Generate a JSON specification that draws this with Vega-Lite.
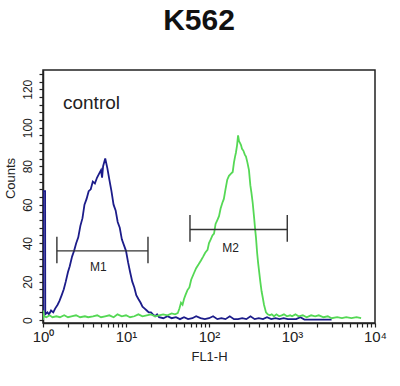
{
  "$schema": "https://vega.github.io/schema/vega-lite/v6.json",
  "width": 332,
  "height": 253,
  "autosize": {"type": "none"},
  "padding": {"left": 43, "top": 70, "right": 25, "bottom": 63},
  "background": "white",
  "config": {
    "view": {"stroke": "#222222", "strokeWidth": 1.5},
    "font": "Liberation Sans"
  },
  "datasets": {
    "hist": [
      {"s": "control", "v": 1, "n": 0}, {"s": "control", "v": 1.001, "n": 67}, {"s": "control", "v": 1.06, "n": 67}, {"s": "control", "v": 1.065, "n": 3},
      {"s": "control", "v": 1.13, "n": 4}, {"s": "control", "v": 1.18, "n": 3}, {"s": "control", "v": 1.25, "n": 5}, {"s": "control", "v": 1.33, "n": 4},
      {"s": "control", "v": 1.4, "n": 6}, {"s": "control", "v": 1.5, "n": 8}, {"s": "control", "v": 1.58, "n": 10}, {"s": "control", "v": 1.68, "n": 13},
      {"s": "control", "v": 1.78, "n": 16}, {"s": "control", "v": 1.88, "n": 20}, {"s": "control", "v": 2.0, "n": 25}, {"s": "control", "v": 2.1, "n": 28},
      {"s": "control", "v": 2.24, "n": 33}, {"s": "control", "v": 2.37, "n": 36}, {"s": "control", "v": 2.51, "n": 40}, {"s": "control", "v": 2.66, "n": 43},
      {"s": "control", "v": 2.82, "n": 49}, {"s": "control", "v": 2.99, "n": 53}, {"s": "control", "v": 3.16, "n": 60}, {"s": "control", "v": 3.35, "n": 63},
      {"s": "control", "v": 3.55, "n": 67}, {"s": "control", "v": 3.76, "n": 68}, {"s": "control", "v": 3.98, "n": 72}, {"s": "control", "v": 4.22, "n": 71},
      {"s": "control", "v": 4.47, "n": 74}, {"s": "control", "v": 4.73, "n": 76}, {"s": "control", "v": 5.0, "n": 78}, {"s": "control", "v": 5.15, "n": 74},
      {"s": "control", "v": 5.3, "n": 80}, {"s": "control", "v": 5.62, "n": 84}, {"s": "control", "v": 5.96, "n": 79}, {"s": "control", "v": 6.3, "n": 73},
      {"s": "control", "v": 6.68, "n": 67}, {"s": "control", "v": 7.08, "n": 60}, {"s": "control", "v": 7.5, "n": 57}, {"s": "control", "v": 7.94, "n": 51},
      {"s": "control", "v": 8.41, "n": 48}, {"s": "control", "v": 8.91, "n": 42}, {"s": "control", "v": 9.44, "n": 39}, {"s": "control", "v": 10, "n": 36},
      {"s": "control", "v": 10.6, "n": 30}, {"s": "control", "v": 11.2, "n": 25}, {"s": "control", "v": 11.9, "n": 20}, {"s": "control", "v": 12.6, "n": 17},
      {"s": "control", "v": 13.3, "n": 13}, {"s": "control", "v": 14.1, "n": 11}, {"s": "control", "v": 15, "n": 9}, {"s": "control", "v": 15.8, "n": 7},
      {"s": "control", "v": 16.8, "n": 6}, {"s": "control", "v": 17.8, "n": 5}, {"s": "control", "v": 18.8, "n": 4}, {"s": "control", "v": 20, "n": 4},
      {"s": "control", "v": 21.1, "n": 3}, {"s": "control", "v": 22.4, "n": 2}, {"s": "control", "v": 23.7, "n": 3}, {"s": "control", "v": 25, "n": 1.5},
      {"s": "control", "v": 28.2, "n": 1}, {"s": "control", "v": 31.6, "n": 2}, {"s": "control", "v": 35.5, "n": 1}, {"s": "control", "v": 40, "n": 1.5},
      {"s": "control", "v": 44.7, "n": 0.5}, {"s": "control", "v": 50, "n": 1.5}, {"s": "control", "v": 56, "n": 0.5}, {"s": "control", "v": 63, "n": 1},
      {"s": "control", "v": 70, "n": 2}, {"s": "control", "v": 79, "n": 1}, {"s": "control", "v": 89, "n": 0.5}, {"s": "control", "v": 100, "n": 1},
      {"s": "control", "v": 112, "n": 2}, {"s": "control", "v": 126, "n": 0.5}, {"s": "control", "v": 141, "n": 1}, {"s": "control", "v": 158, "n": 0.5},
      {"s": "control", "v": 178, "n": 2}, {"s": "control", "v": 200, "n": 0.5}, {"s": "control", "v": 224, "n": 0.5}, {"s": "control", "v": 251, "n": 1},
      {"s": "control", "v": 282, "n": 0.5}, {"s": "control", "v": 316, "n": 2}, {"s": "control", "v": 355, "n": 0.5}, {"s": "control", "v": 398, "n": 1},
      {"s": "control", "v": 447, "n": 0.5}, {"s": "control", "v": 500, "n": 1.5}, {"s": "control", "v": 562, "n": 0.5}, {"s": "control", "v": 631, "n": 1},
      {"s": "control", "v": 708, "n": 0.5}, {"s": "control", "v": 794, "n": 1}, {"s": "control", "v": 891, "n": 0.5}, {"s": "control", "v": 1000, "n": 0.5},
      {"s": "control", "v": 1122, "n": 0.5}, {"s": "control", "v": 1259, "n": 1.5}, {"s": "control", "v": 1413, "n": 0.3}, {"s": "control", "v": 2000, "n": 0.3},
      {"s": "control", "v": 3000, "n": 0.3},
      {"s": "sample", "v": 1, "n": 0}, {"s": "sample", "v": 1.001, "n": 5}, {"s": "sample", "v": 1.03, "n": 2}, {"s": "sample", "v": 1.1, "n": 1.5},
      {"s": "sample", "v": 1.2, "n": 2.5}, {"s": "sample", "v": 1.3, "n": 1.5}, {"s": "sample", "v": 1.45, "n": 2}, {"s": "sample", "v": 1.6, "n": 1.5},
      {"s": "sample", "v": 1.8, "n": 2.5}, {"s": "sample", "v": 2.0, "n": 1.5}, {"s": "sample", "v": 2.2, "n": 2}, {"s": "sample", "v": 2.5, "n": 2.5},
      {"s": "sample", "v": 2.8, "n": 1.5}, {"s": "sample", "v": 3.2, "n": 2}, {"s": "sample", "v": 3.5, "n": 1.5}, {"s": "sample", "v": 4, "n": 2},
      {"s": "sample", "v": 4.5, "n": 2.5}, {"s": "sample", "v": 5, "n": 1.5}, {"s": "sample", "v": 5.6, "n": 2}, {"s": "sample", "v": 6.3, "n": 2.5},
      {"s": "sample", "v": 7.1, "n": 1.5}, {"s": "sample", "v": 7.9, "n": 3}, {"s": "sample", "v": 8.9, "n": 2}, {"s": "sample", "v": 10, "n": 2.5},
      {"s": "sample", "v": 11.2, "n": 1.5}, {"s": "sample", "v": 12.6, "n": 2}, {"s": "sample", "v": 14.1, "n": 3}, {"s": "sample", "v": 15.8, "n": 2},
      {"s": "sample", "v": 17.8, "n": 2.5}, {"s": "sample", "v": 20, "n": 3}, {"s": "sample", "v": 22.4, "n": 2}, {"s": "sample", "v": 25, "n": 2.5},
      {"s": "sample", "v": 28, "n": 3}, {"s": "sample", "v": 31.6, "n": 2.5}, {"s": "sample", "v": 35.5, "n": 3.5}, {"s": "sample", "v": 39, "n": 3},
      {"s": "sample", "v": 42, "n": 3.6}, {"s": "sample", "v": 44, "n": 6}, {"s": "sample", "v": 46, "n": 9}, {"s": "sample", "v": 48, "n": 8},
      {"s": "sample", "v": 50, "n": 11}, {"s": "sample", "v": 52, "n": 13}, {"s": "sample", "v": 55, "n": 15.6}, {"s": "sample", "v": 58, "n": 17},
      {"s": "sample", "v": 61, "n": 21}, {"s": "sample", "v": 66, "n": 24.5}, {"s": "sample", "v": 70, "n": 27}, {"s": "sample", "v": 75, "n": 29},
      {"s": "sample", "v": 80, "n": 31}, {"s": "sample", "v": 85, "n": 33}, {"s": "sample", "v": 90, "n": 35}, {"s": "sample", "v": 96, "n": 36.5},
      {"s": "sample", "v": 100, "n": 40}, {"s": "sample", "v": 105, "n": 42}, {"s": "sample", "v": 110, "n": 44}, {"s": "sample", "v": 115, "n": 45},
      {"s": "sample", "v": 120, "n": 50}, {"s": "sample", "v": 126, "n": 52}, {"s": "sample", "v": 132, "n": 54}, {"s": "sample", "v": 138, "n": 58},
      {"s": "sample", "v": 145, "n": 61}, {"s": "sample", "v": 151, "n": 63}, {"s": "sample", "v": 158, "n": 68}, {"s": "sample", "v": 166, "n": 73},
      {"s": "sample", "v": 174, "n": 75}, {"s": "sample", "v": 183, "n": 76}, {"s": "sample", "v": 193, "n": 77}, {"s": "sample", "v": 200, "n": 82},
      {"s": "sample", "v": 206, "n": 85}, {"s": "sample", "v": 211, "n": 87}, {"s": "sample", "v": 218, "n": 91}, {"s": "sample", "v": 224, "n": 96},
      {"s": "sample", "v": 230, "n": 93}, {"s": "sample", "v": 237, "n": 92}, {"s": "sample", "v": 243, "n": 91}, {"s": "sample", "v": 250, "n": 89},
      {"s": "sample", "v": 260, "n": 88}, {"s": "sample", "v": 270, "n": 86}, {"s": "sample", "v": 279, "n": 85}, {"s": "sample", "v": 290, "n": 82},
      {"s": "sample", "v": 303, "n": 78}, {"s": "sample", "v": 315, "n": 70}, {"s": "sample", "v": 325, "n": 66}, {"s": "sample", "v": 336, "n": 61},
      {"s": "sample", "v": 350, "n": 53}, {"s": "sample", "v": 360, "n": 47}, {"s": "sample", "v": 368, "n": 43}, {"s": "sample", "v": 380, "n": 35},
      {"s": "sample", "v": 390, "n": 30}, {"s": "sample", "v": 400, "n": 26}, {"s": "sample", "v": 415, "n": 20}, {"s": "sample", "v": 430, "n": 15},
      {"s": "sample", "v": 443, "n": 12}, {"s": "sample", "v": 460, "n": 8}, {"s": "sample", "v": 486, "n": 4}, {"s": "sample", "v": 510, "n": 3},
      {"s": "sample", "v": 540, "n": 2.5}, {"s": "sample", "v": 570, "n": 3}, {"s": "sample", "v": 607, "n": 2}, {"s": "sample", "v": 650, "n": 3},
      {"s": "sample", "v": 700, "n": 2}, {"s": "sample", "v": 750, "n": 2.5}, {"s": "sample", "v": 800, "n": 3}, {"s": "sample", "v": 870, "n": 2},
      {"s": "sample", "v": 950, "n": 2.5}, {"s": "sample", "v": 1000, "n": 2}, {"s": "sample", "v": 1100, "n": 3}, {"s": "sample", "v": 1200, "n": 2},
      {"s": "sample", "v": 1350, "n": 2.5}, {"s": "sample", "v": 1500, "n": 1.5}, {"s": "sample", "v": 1700, "n": 2.5}, {"s": "sample", "v": 1900, "n": 2},
      {"s": "sample", "v": 2100, "n": 2.5}, {"s": "sample", "v": 2400, "n": 1.5}, {"s": "sample", "v": 2700, "n": 2}, {"s": "sample", "v": 3000, "n": 1},
      {"s": "sample", "v": 3500, "n": 1.5}, {"s": "sample", "v": 4000, "n": 1}, {"s": "sample", "v": 4500, "n": 1.5}, {"s": "sample", "v": 5200, "n": 1},
      {"s": "sample", "v": 6000, "n": 1.5}, {"s": "sample", "v": 6800, "n": 1}
    ],
    "markers": [
      {"m": "M1", "v": 1.47, "v2": 18.4, "n": 36, "lo": 29.6, "hi": 43.3, "lv": 4.64, "ln": 27.7},
      {"m": "M2", "v": 59, "v2": 877, "n": 47.1, "lo": 40.7, "hi": 54.6, "lv": 182, "ln": 37.3}
    ]
  },
  "layer": [
    {
      "data": {"name": "hist"},
      "mark": {"type": "line", "strokeWidth": 1.8, "clip": true},
      "encoding": {
        "x": {
          "field": "v", "type": "quantitative",
          "scale": {"type": "log", "domain": [1, 10000], "nice": false},
          "axis": {
            "title": "FL1-H", "titleFontSize": 13, "titleFontWeight": "normal", "titleColor": "#222222", "titlePadding": 6,
            "values": [1, 2, 3, 4, 5, 6, 7, 8, 9, 10, 20, 30, 40, 50, 60, 70, 80, 90, 100, 200, 300, 400, 500, 600, 700, 800, 900, 1000, 2000, 3000, 4000, 5000, 6000, 7000, 8000, 9000, 10000],
            "tickCount": 200,
            "labelExpr": "datum.value == 1 ? '10⁰' : datum.value == 10 ? '10¹' : datum.value == 100 ? '10²' : datum.value == 1000 ? '10³' : datum.value == 10000 ? '10⁴' : ''",
            "labelFontSize": 15, "labelColor": "#222222", "labelOverlap": false, "labelFlush": false, "labelPadding": 2,
            "tickSize": 4, "tickColor": "#222222", "tickWidth": 1.2, "domainColor": "#222222", "domainWidth": 1.5, "grid": false
          }
        },
        "y": {
          "field": "n", "type": "quantitative",
          "scale": {"domain": [-1.5, 130], "nice": false, "zero": false},
          "axis": {
            "title": "Counts", "titleFontSize": 13, "titleFontWeight": "normal", "titleColor": "#222222",
            "titleX": -33, "titleY": 108, "titleAngle": -90, "titleAlign": "center", "titleBaseline": "middle",
            "values": [0, 4, 8, 12, 16, 20, 24, 28, 32, 36, 40, 44, 48, 52, 56, 60, 64, 68, 72, 76, 80, 84, 88, 92, 96, 100, 104, 108, 112, 116, 120, 124, 128],
            "tickCount": 200,
            "format": "d",
            "labelExpr": "datum.value % 20 == 0 ? datum.label : ''",
            "labelFontSize": 12, "labelColor": "#222222", "labelOverlap": false, "labelFlush": false,
            "labelAngle": -90, "labelAlign": "center", "labelBaseline": "bottom", "labelPadding": 5,
            "tickSize": 4, "tickColor": "#222222", "tickWidth": 1.2, "domainColor": "#222222", "domainWidth": 1.5, "grid": false
          }
        },
        "color": {
          "field": "s", "type": "nominal",
          "scale": {"domain": ["control", "sample"], "range": ["#1c1c8a", "#55d855"]},
          "legend": null
        }
      }
    },
    {
      "data": {"name": "markers"},
      "mark": {"type": "rule", "color": "#333333", "strokeWidth": 1.4},
      "encoding": {
        "x": {"field": "v", "type": "quantitative"},
        "x2": {"field": "v2"},
        "y": {"field": "n", "type": "quantitative"}
      }
    },
    {
      "data": {"name": "markers"},
      "mark": {"type": "rule", "color": "#333333", "strokeWidth": 1.4},
      "encoding": {
        "x": {"field": "v", "type": "quantitative"},
        "y": {"field": "lo", "type": "quantitative"},
        "y2": {"field": "hi"}
      }
    },
    {
      "data": {"name": "markers"},
      "mark": {"type": "rule", "color": "#333333", "strokeWidth": 1.4},
      "encoding": {
        "x": {"field": "v2", "type": "quantitative"},
        "y": {"field": "lo", "type": "quantitative"},
        "y2": {"field": "hi"}
      }
    },
    {
      "data": {"name": "markers"},
      "mark": {"type": "text", "fontSize": 12, "color": "#222222", "align": "center", "baseline": "middle"},
      "encoding": {
        "x": {"field": "lv", "type": "quantitative"},
        "y": {"field": "ln", "type": "quantitative"},
        "text": {"field": "m"}
      }
    },
    {
      "data": {"values": [{"t": "control"}]},
      "mark": {"type": "text", "fontSize": 19, "color": "#222222", "align": "left", "baseline": "middle"},
      "encoding": {
        "x": {"datum": 1.74},
        "y": {"datum": 113},
        "text": {"field": "t"}
      }
    },
    {
      "data": {"values": [{"t": "K562"}]},
      "mark": {"type": "text", "fontSize": 30, "fontWeight": "bold", "color": "#111111", "align": "center", "baseline": "alphabetic", "clip": false},
      "encoding": {
        "x": {"datum": 75.8},
        "y": {"datum": 150.7},
        "text": {"field": "t"}
      }
    }
  ],
  "resolve": {"scale": {"x": "shared", "y": "shared"}}
}
